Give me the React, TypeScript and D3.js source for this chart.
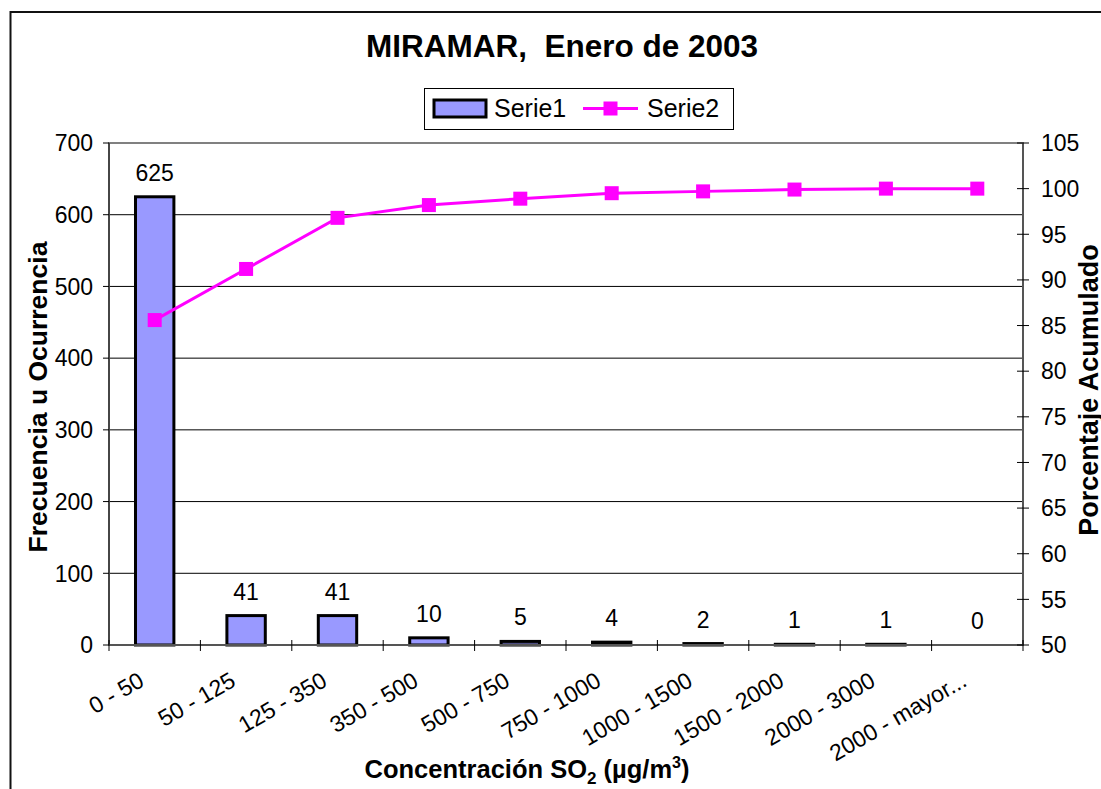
import React from "react";
import * as d3 from "d3";

const categories = ["0 - 50", "50 - 125", "125 - 350", "350 - 500", "500 - 750", "750 - 1000", "1000 - 1500", "1500 - 2000", "2000 - 3000", "2000 - mayor..."];
const serie1 = [625, 41, 41, 10, 5, 4, 2, 1, 1, 0];
const serie2 = [85.6, 91.2, 96.8, 98.2, 98.9, 99.5, 99.7, 99.9, 100, 100];
const leftTicks = [0, 100, 200, 300, 400, 500, 600, 700];
const rightTicks = [50, 55, 60, 65, 70, 75, 80, 85, 90, 95, 100, 105];

const FONT = "'Liberation Sans', Arial, Helvetica, sans-serif";
const BAR_FILL = "#9999FF";
const LINE = "#FF00FF";

export default function App() {
  const left = 109, right = 1023, top = 143, bottom = 645;
  const x = d3.scaleBand<string>().domain(categories).range([left, right]).paddingInner(0).paddingOuter(0);
  const yL = d3.scaleLinear().domain([0, 700]).range([bottom, top]);
  const yR = d3.scaleLinear().domain([50, 105]).range([bottom, top]);
  const bw = x.bandwidth();
  const barW = bw * 0.42;
  const cx = (c: string) => (x(c) as number) + bw / 2;
  const line = d3.line<number>().x((_, i) => cx(categories[i])).y((d) => yR(d));
  const ms = 14;

  return (
    <svg width={1101} height={789} style={{ position: "absolute", left: 0, top: 0, background: "#fff" }} fontFamily={FONT}>
      <rect x={0} y={0} width={1101} height={789} fill="#fff" />
      {/* outer chart border */}
      <rect x={10.5} y={12} width={1200} height={900} fill="none" stroke="#111" strokeWidth={2} />

      {/* title */}
      <text x={562} y={57} textAnchor="middle" fontSize={31.5} fontWeight="bold" style={{ whiteSpace: "pre" }}>
        {"MIRAMAR,  Enero de 2003"}
      </text>

      {/* legend */}
      <rect x={424.5} y={88.5} width={309} height={41} fill="#fff" stroke="#000" strokeWidth={1} />
      <rect x={434} y={100} width={52} height={17} fill={BAR_FILL} stroke="#000" strokeWidth={3} />
      <text x={494} y={117} fontSize={25}>Serie1</text>
      <line x1={583} x2={638} y1={108.5} y2={108.5} stroke={LINE} strokeWidth={3} />
      <rect x={610.5 - ms / 2} y={108.5 - ms / 2} width={ms} height={ms} fill={LINE} />
      <text x={647} y={117} fontSize={25}>Serie2</text>

      {/* gridlines */}
      {leftTicks.filter((t) => t > 0 && t < 700).map((t) => (
        <line key={"g" + t} x1={left} x2={right} y1={yL(t)} y2={yL(t)} stroke="#000" strokeWidth={1} />
      ))}

      {/* plot border */}
      <rect x={left} y={top} width={right - left} height={bottom - top} fill="none" stroke="#808080" strokeWidth={2} />

      {/* bars */}
      {serie1.map((v, i) => {
        const c = categories[i];
        const h = bottom - yL(v);
        return h > 0 ? (
          <rect key={"b" + i} x={cx(c) - barW / 2} y={yL(v)} width={barW} height={h} fill={BAR_FILL} stroke="#000" strokeWidth={3} />
        ) : null;
      })}

      {/* data labels */}
      {serie1.map((v, i) => (
        <text key={"l" + i} x={cx(categories[i])} y={yL(v) - 16} textAnchor="middle" fontSize={23}>{v}</text>
      ))}

      {/* axes */}
      <line x1={left} x2={left} y1={top} y2={bottom} stroke="#333" strokeWidth={1.5} />
      <line x1={right} x2={right} y1={top} y2={bottom} stroke="#555" strokeWidth={2} />
      <line x1={left} x2={right} y1={bottom} y2={bottom} stroke="#555" strokeWidth={2} />

      {/* left ticks */}
      {leftTicks.map((t) => (
        <g key={"lt" + t}>
          <line x1={left - 6} x2={left} y1={yL(t)} y2={yL(t)} stroke="#000" strokeWidth={1} />
          <text x={93} y={yL(t)} dy="0.36em" textAnchor="end" fontSize={23}>{t}</text>
        </g>
      ))}

      {/* right ticks */}
      {rightTicks.map((t) => (
        <g key={"rt" + t}>
          <line x1={right - 6} x2={right + 6} y1={yR(t)} y2={yR(t)} stroke="#000" strokeWidth={1} />
          <text x={1041} y={yR(t)} dy="0.36em" textAnchor="start" fontSize={23}>{t}</text>
        </g>
      ))}

      {/* bottom ticks at category boundaries */}
      {categories.map((c, i) => (
        <line key={"bt" + i} x1={x(c) as number} x2={x(c) as number} y1={bottom - 5} y2={bottom + 6} stroke="#000" strokeWidth={1} />
      ))}
      <line x1={right} x2={right} y1={bottom - 5} y2={bottom + 6} stroke="#000" strokeWidth={1} />

      {/* category labels */}
      {categories.map((c) => (
        <text key={"cl" + c} transform={`translate(${cx(c) - 9},${bottom + 40}) rotate(-30)`} textAnchor="end" fontSize={23}>{c}</text>
      ))}

      {/* line series */}
      <path d={line(serie2) || ""} fill="none" stroke={LINE} strokeWidth={3} />
      {serie2.map((v, i) => (
        <rect key={"m" + i} x={cx(categories[i]) - ms / 2} y={yR(v) - ms / 2} width={ms} height={ms} fill={LINE} />
      ))}

      {/* axis titles */}
      <text transform={`translate(47,397) rotate(-90)`} textAnchor="middle" fontSize={26.5} fontWeight="bold">Frecuencia u Ocurrencia</text>
      <text transform={`translate(1098,390) rotate(-90)`} textAnchor="middle" fontSize={27} fontWeight="bold">Porcentaje Acumulado</text>
      <text x={527} y={778} textAnchor="middle" fontSize={25.5} fontWeight="bold">
        Concentración SO<tspan dy={6} fontSize={17}>2</tspan>
        <tspan dy={-6}> (µg/m</tspan>
        <tspan dy={-10} fontSize={16}>3</tspan>
        <tspan dy={10}>)</tspan>
      </text>
    </svg>
  );
}
